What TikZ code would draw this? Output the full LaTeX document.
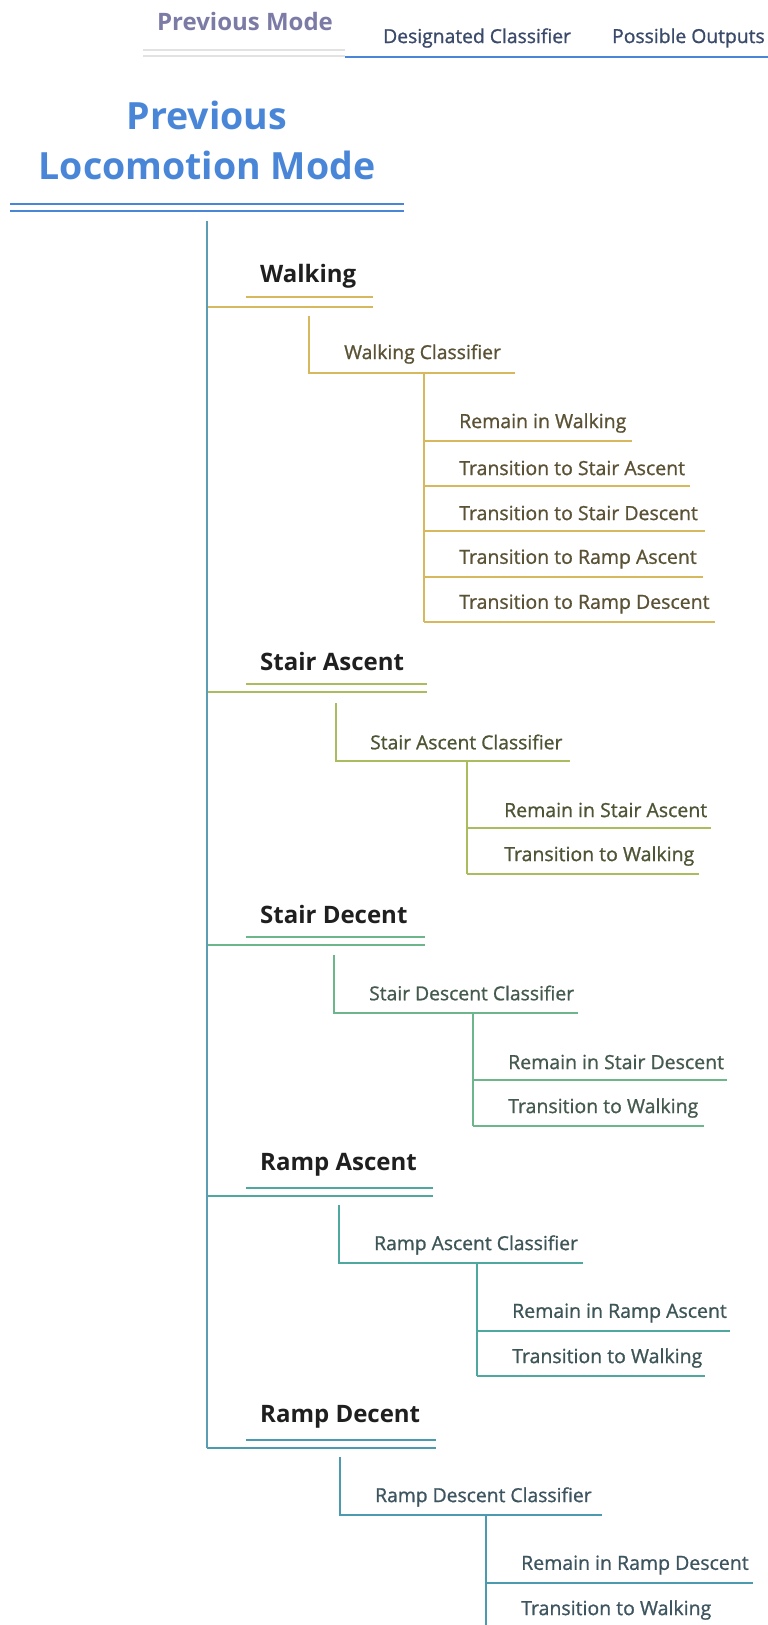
\documentclass[tikz,border=0pt]{standalone}
\usepackage{fontspec}
\setmainfont{Open Sans}
\newfontfamily\semifont{Open Sans}[FakeBold=1.0]
\definecolor{titleblue}{HTML}{4A86D8}
\definecolor{hdrpurple}{HTML}{7B7BA6}
\definecolor{hdrtext}{HTML}{3A4A6A}
\definecolor{hdrgray}{HTML}{E2E2E2}
\definecolor{mainline}{HTML}{5B9DB5}
\definecolor{cwalk}{HTML}{D8B85C}
\definecolor{twalk}{HTML}{5B5236}
\definecolor{csa}{HTML}{A9BC5E}
\definecolor{tsa}{HTML}{4D5535}
\definecolor{csd}{HTML}{6DB58A}
\definecolor{tsd}{HTML}{455A4E}
\definecolor{cra}{HTML}{4FA8A0}
\definecolor{tra}{HTML}{3E5558}
\definecolor{crd}{HTML}{4C9AB0}
\definecolor{trd}{HTML}{3E5560}
\tikzset{
  mode/.style={anchor=west,inner sep=0pt,font=\fontsize{24}{28}\selectfont\bfseries,text=black!88},
  clsf/.style={anchor=west,inner sep=0pt,font=\semifont\fontsize{19.3}{22}\selectfont},
  outp/.style={anchor=west,inner sep=0pt,font=\semifont\fontsize{19.5}{22}\selectfont},
  wire/.style={line width=2.8pt},
}
\begin{document}
\begin{tikzpicture}[x=1pt,y=-1pt]
\useasboundingbox (0,0) rectangle (768,1625);
% header
\node[anchor=center,inner sep=0pt,font=\fontsize{24}{28}\selectfont\bfseries,text=hdrpurple] (hprev) at (245,21) {Previous Mode};
\node[anchor=west,inner sep=0pt,font=\semifont\fontsize{19.3}{22}\selectfont,text=hdrtext] (hcls) at (383,38) {Designated Classifier};
\node[anchor=west,inner sep=0pt,font=\semifont\fontsize{19.3}{22}\selectfont,text=hdrtext] (hout) at (612,38) {Possible Outputs};
\coordinate (g1a) at (143,50); \coordinate (g1b) at (345,50);
\coordinate (g2a) at (143,56); \coordinate (g2b) at (345,56);
\coordinate (bla) at (345,57); \coordinate (blb) at (768,57);
\draw[hdrgray,line width=2pt] (g1a) -- (g1b);
\draw[hdrgray,line width=2pt] (g2a) -- (g2b);
\draw[titleblue,line width=2.4pt] (bla) -- (blb);
% title
\node[anchor=center,inner sep=0pt,align=center,font=\fontsize{37.5}{50}\selectfont\bfseries,text=titleblue] (title) at (207,140) {Previous\\Locomotion Mode};
\coordinate (t1a) at (10,204); \coordinate (t1b) at (404,204);
\coordinate (t2a) at (10,211); \coordinate (t2b) at (404,211);
\draw[titleblue,line width=2.8pt] (t1a) -- (t1b);
\draw[titleblue,line width=2.8pt] (t2a) -- (t2b);
\coordinate (root) at (207,221);

% ===== Walking =====
\node[mode] (walk) at (260,276) {Walking};
\coordinate (walkU1) at (246,297); \coordinate (walkU2) at (373,297);
\coordinate (walkJ) at (207,307); \coordinate (walkE) at (373,307);
\draw[wire,cwalk] (walkU1) -- (walkU2);
\draw[wire,cwalk] (walkJ) -- (walkE);
\node[clsf,text=twalk] (walkc) at (344,354) {Walking Classifier};
\coordinate (walkcT) at (309,316); \coordinate (walkcB) at (309,373); \coordinate (walkcE) at (515,373);
\draw[wire,cwalk] (walkcT) -- (walkcB) -- (walkcE);
\coordinate (walkoT) at (424,373); \coordinate (walkoB) at (424,622);
\draw[wire,cwalk] (walkoT) -- (walkoB);
\node[outp,text=twalk] (w1) at (459,423) {Remain in Walking};
\node[outp,text=twalk] (w2) at (459,468) {Transition to Stair Ascent};
\node[outp,text=twalk] (w3) at (459,513) {Transition to Stair Descent};
\node[outp,text=twalk] (w4) at (459,559) {Transition to Ramp Ascent};
\node[outp,text=twalk] (w5) at (459,604) {Transition to Ramp Descent};
\coordinate (w1a) at (424,441); \coordinate (w1b) at (632,441);
\coordinate (w2a) at (424,486); \coordinate (w2b) at (690,486);
\coordinate (w3a) at (424,531); \coordinate (w3b) at (705,531);
\coordinate (w4a) at (424,577); \coordinate (w4b) at (703,577);
\coordinate (w5a) at (424,622); \coordinate (w5b) at (715,622);
\foreach \n in {w1,w2,w3,w4,w5} \draw[wire,cwalk] (\n a) -- (\n b);

% ===== Stair Ascent =====
\node[mode] (sa) at (260,661) {Stair Ascent};
\coordinate (saU1) at (246,684); \coordinate (saU2) at (427,684);
\coordinate (saJ) at (207,692); \coordinate (saE) at (427,692);
\draw[wire,csa] (saU1) -- (saU2);
\draw[wire,csa] (saJ) -- (saE);
\node[clsf,text=tsa] (sac) at (370,742) {Stair Ascent Classifier};
\coordinate (sacT) at (336,703); \coordinate (sacB) at (336,761); \coordinate (sacE) at (570,761);
\draw[wire,csa] (sacT) -- (sacB) -- (sacE);
\coordinate (saoT) at (467,761); \coordinate (saoB) at (467,874);
\draw[wire,csa] (saoT) -- (saoB);
\node[outp,text=tsa] (sa1) at (504,810) {Remain in Stair Ascent};
\node[outp,text=tsa] (sa2) at (504,856) {Transition to Walking};
\coordinate (sa1a) at (467,828); \coordinate (sa1b) at (711,828);
\coordinate (sa2a) at (467,874); \coordinate (sa2b) at (699,874);
\foreach \n in {sa1,sa2} \draw[wire,csa] (\n a) -- (\n b);

% ===== Stair Decent =====
\node[mode] (sd) at (260,914) {Stair Decent};
\coordinate (sdU1) at (246,937); \coordinate (sdU2) at (425,937);
\coordinate (sdJ) at (207,945); \coordinate (sdE) at (425,945);
\draw[wire,csd] (sdU1) -- (sdU2);
\draw[wire,csd] (sdJ) -- (sdE);
\node[clsf,text=tsd] (sdc) at (369,993) {Stair Descent Classifier};
\coordinate (sdcT) at (334,955); \coordinate (sdcB) at (334,1013); \coordinate (sdcE) at (578,1013);
\draw[wire,csd] (sdcT) -- (sdcB) -- (sdcE);
\coordinate (sdoT) at (473,1013); \coordinate (sdoB) at (473,1126);
\draw[wire,csd] (sdoT) -- (sdoB);
\node[outp,text=tsd] (sd1) at (508,1062) {Remain in Stair Descent};
\node[outp,text=tsd] (sd2) at (508,1108) {Transition to Walking};
\coordinate (sd1a) at (473,1080); \coordinate (sd1b) at (727,1080);
\coordinate (sd2a) at (473,1126); \coordinate (sd2b) at (704,1126);
\foreach \n in {sd1,sd2} \draw[wire,csd] (\n a) -- (\n b);

% ===== Ramp Ascent =====
\node[mode] (ra) at (260,1165) {Ramp Ascent};
\coordinate (raU1) at (246,1188); \coordinate (raU2) at (433,1188);
\coordinate (raJ) at (207,1196); \coordinate (raE) at (433,1196);
\draw[wire,cra] (raU1) -- (raU2);
\draw[wire,cra] (raJ) -- (raE);
\node[clsf,text=tra] (rac) at (374,1245) {Ramp Ascent Classifier};
\coordinate (racT) at (339,1205); \coordinate (racB) at (339,1263); \coordinate (racE) at (583,1263);
\draw[wire,cra] (racT) -- (racB) -- (racE);
\coordinate (raoT) at (477,1263); \coordinate (raoB) at (477,1376);
\draw[wire,cra] (raoT) -- (raoB);
\node[outp,text=tra] (ra1) at (512,1313) {Remain in Ramp Ascent};
\node[outp,text=tra] (ra2) at (512,1358) {Transition to Walking};
\coordinate (ra1a) at (477,1331); \coordinate (ra1b) at (730,1331);
\coordinate (ra2a) at (477,1376); \coordinate (ra2b) at (705,1376);
\foreach \n in {ra1,ra2} \draw[wire,cra] (\n a) -- (\n b);

% ===== Ramp Decent =====
\node[mode] (rd) at (260,1417) {Ramp Decent};
\coordinate (rdU1) at (246,1440); \coordinate (rdU2) at (436,1440);
\coordinate (rdJ) at (207,1448); \coordinate (rdE) at (436,1448);
\draw[wire,crd] (rdU1) -- (rdU2);
\draw[wire,crd] (rdJ) -- (rdE);
\node[clsf,text=trd] (rdc) at (375,1497) {Ramp Descent Classifier};
\coordinate (rdcT) at (340,1457); \coordinate (rdcB) at (340,1515); \coordinate (rdcE) at (602,1515);
\draw[wire,crd] (rdcT) -- (rdcB) -- (rdcE);
\coordinate (rdoT) at (486,1515); \coordinate (rdoB) at (486,1625);
\draw[wire,crd] (rdoT) -- (rdoB);
\node[outp,text=trd] (rd1) at (521,1565) {Remain in Ramp Descent};
\node[outp,text=trd] (rd2) at (521,1610) {Transition to Walking};
\coordinate (rd1a) at (486,1583); \coordinate (rd1b) at (753,1583);
\draw[wire,crd] (rd1a) -- (rd1b);

% main trunk
\draw[wire,mainline] (root) -- (rdJ);
\end{tikzpicture}
\end{document}
